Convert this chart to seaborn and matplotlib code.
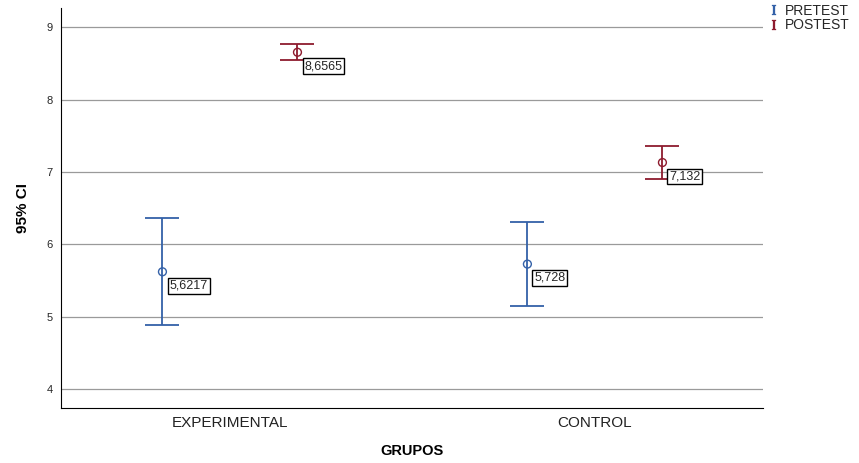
import numpy as np
import pandas as pd
import matplotlib
matplotlib.use("Agg")
import matplotlib.pyplot as plt
from matplotlib.lines import Line2D
import seaborn as sns

sns.set_style("white")
plt.rcParams['font.family'] = ['Liberation Sans', 'DejaVu Sans']
plt.rcParams['mathtext.fontset'] = 'dejavuserif'

# DATA

grupos = ["EXPERIMENTAL", "CONTROL"]
tests = ["PRETEST", "POSTEST"]

media_pre = [5.6217, 5.728]
media_post = [8.6565, 7.132]
ci_low_pre = [4.89, 5.15]
ci_high_pre = [6.36, 6.31]
ci_low_post = [8.545, 6.90]
ci_high_post = [8.765, 7.355]
etiquetas_pre = ["5,6217", "5,728"]
etiquetas_post = ["8,6565", "7,132"]

colores = {"PRETEST": "#3461A8", "POSTEST": "#8E1B2E"}

df = pd.DataFrame({
    "grupo": grupos * 2,
    "test": ["PRETEST"] * 2 + ["POSTEST"] * 2,
    "media": media_pre + media_post,
    "low": ci_low_pre + ci_low_post,
    "high": ci_high_pre + ci_high_post,
    "etiqueta": etiquetas_pre + etiquetas_post,
})

# PLOT

fig = plt.figure(figsize=(8.59, 4.63), dpi=100)
ax = fig.add_axes([0.071, 0.119, 0.817, 0.864])

dodge = 0.37
offsets = {"PRETEST": -dodge / 2, "POSTEST": dodge / 2}

for test in tests:
    sub = df[df["test"] == test]
    xs = np.array([grupos.index(g) for g in sub["grupo"]]) + offsets[test]
    yerr = [sub["media"] - sub["low"], sub["high"] - sub["media"]]
    ax.errorbar(
        xs, sub["media"], yerr=yerr,
        fmt="none", ecolor=colores[test],
        elinewidth=1.3, capsize=12, capthick=1.3, zorder=3
    )
    sns.scatterplot(
        x=xs, y=sub["media"].values, ax=ax,
        marker="o", s=32, facecolor="none",
        edgecolor=colores[test], linewidth=1.0,
        zorder=4, legend=False
    )
    for x, y, lab in zip(xs, sub["media"], sub["etiqueta"]):
        ax.annotate(
            lab, (x, y), xytext=(5, -10), textcoords="offset points",
            fontsize=9, va="center", ha="left",
            bbox=dict(boxstyle="square,pad=0.15", fc="white", ec="black", lw=1.0),
            zorder=5
        )

ax.set_xlim(-0.463, 1.46)
ax.set_ylim(3.74, 9.27)
ax.set_xticks([0, 1])
ax.set_xticklabels(grupos, fontsize=11, color="#222222")
ax.set_yticks([4, 5, 6, 7, 8, 9])
ax.tick_params(axis="y", labelsize=8, length=0, pad=6)
ax.tick_params(axis="x", length=0, pad=6)
ax.yaxis.grid(True, color="#9a9a9a", linewidth=0.9)
ax.set_axisbelow(True)

for s in ["top", "right"]:
    ax.spines[s].set_visible(False)
ax.spines["left"].set_color("black")
ax.spines["bottom"].set_color("black")

ax.set_xlabel("GRUPOS", fontsize=10.5, fontweight="bold", labelpad=10, color="black")
ax.set_ylabel("95% CI", fontsize=11, fontweight="bold", labelpad=12, color="black")

handles = [
    Line2D([], [], linestyle="none", marker=r"$\mathrm{I}$",
           color=colores[t], markersize=7, markeredgewidth=0.2) for t in tests
]
fig.legend(
    handles, tests, loc="upper left", bbox_to_anchor=(0.885, 1.01),
    frameon=False, fontsize=10, handlelength=0.8, handletextpad=0.4,
    labelspacing=0.05, borderaxespad=0.2
)

fig.savefig("out.png", dpi=100)
